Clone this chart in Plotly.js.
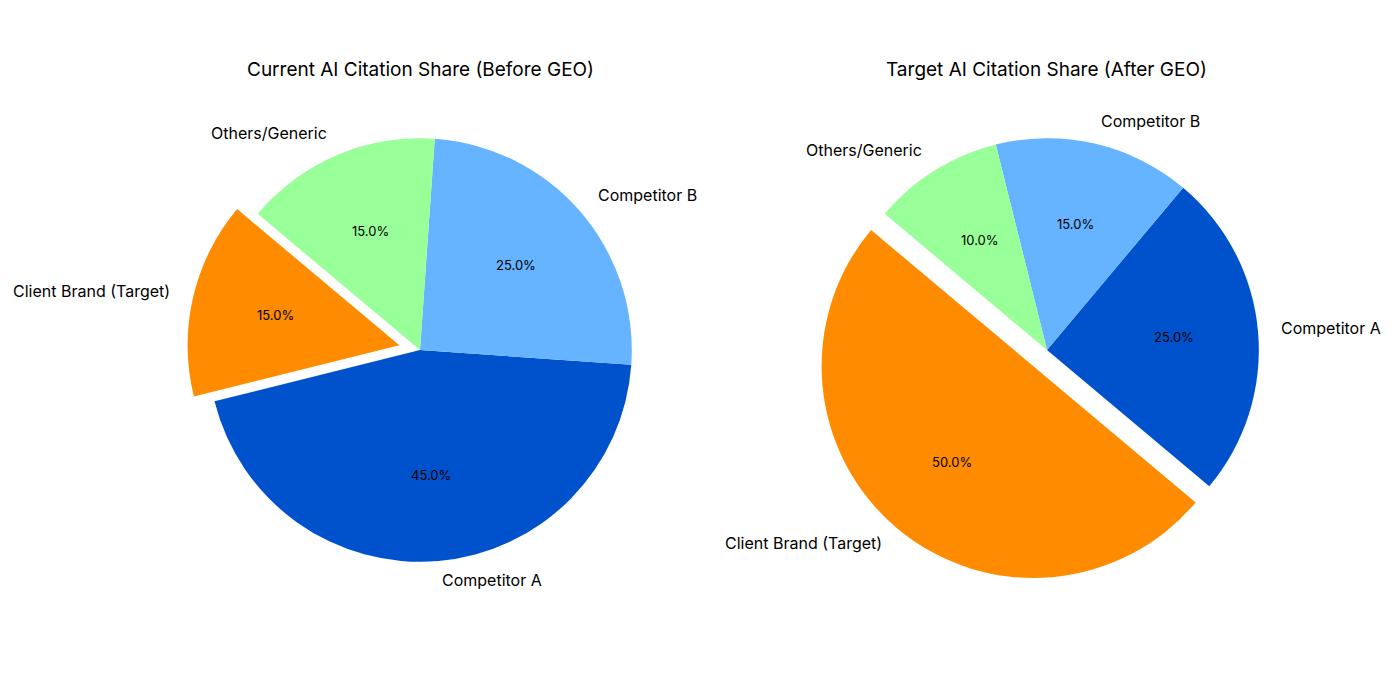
<!DOCTYPE html>
<html>
<head>
<meta charset="utf-8">
<script src="https://cdn.plot.ly/plotly-3.0.1.min.js"></script>
<style>html,body{margin:0;padding:0;background:#fff}</style>
</head>
<body>
<div id="chart" style="width:1400px;height:700px"></div>
<script>
const labels = ["Client Brand (Target)", "Competitor A", "Competitor B", "Others/Generic"];
const currentShare = [15, 45, 25, 15];
const targetShare = [50, 25, 15, 10];
const explode = [0.1, 0, 0, 0];
const sliceColors = ["#FF8C00", "#0052CC", "#66B3FF", "#99FF99"];
const titles = ["Current AI Citation Share (Before GEO)", "Target AI Citation Share (After GEO)"];
const startAngle = 140;      // first slice begins here (deg, counterclockwise from 3 o'clock)
const pctDistance = 0.6;     // percent labels, in pie radii
const labelDistance = 1.1;   // category labels, in pie radii

const FONT = "Inter, Roboto, 'DejaVu Sans', sans-serif";
const domains = [
  {x: [0.1336, 0.4664], y: [0.167, 0.833]},
  {x: [0.5814, 0.9143], y: [0.167, 0.833]}
];
const datasets = [currentShare, targetShare];
const maxPull = Math.max.apply(null, explode);
const pieHalf = 1 + maxPull;   // pie domain half-size, in pie radii
const axHalf = 1.45;           // hidden text axes half-size, in pie radii
function wrap(a) { return ((a + 180) % 360 + 360) % 360 - 180; }
function grow(d) {
  const f = axHalf / pieHalf;
  const c = (d[0] + d[1]) / 2, h = (d[1] - d[0]) / 2 * f;
  return [c - h, c + h];
}

const traces = [];
const annotations = [];
const layout = {
  width: 1400, height: 700,
  margin: {l: 0, r: 0, t: 0, b: 0},
  paper_bgcolor: "#fff", plot_bgcolor: "rgba(0,0,0,0)",
  font: {family: FONT, color: "#000"},
  hovermode: false, showlegend: false
};

datasets.forEach((vals, i) => {
  const total = vals.reduce((s, v) => s + v, 0);
  const rot = wrap((90 - startAngle) - vals[0] / total * 360);
  traces.push({
    type: "pie", labels: labels, values: vals, sort: false,
    direction: "counterclockwise", rotation: rot, pull: explode,
    domain: domains[i], showlegend: false, hoverinfo: "skip",
    marker: {colors: sliceColors, line: {width: 0}},
    textinfo: "none"
  });
  const xa = i === 0 ? "x" : "x2", ya = i === 0 ? "y" : "y2";
  traces.push({type: "scatter", x: [], y: [], xaxis: xa, yaxis: ya, showlegend: false, hoverinfo: "skip"});
  const axKey = i === 0 ? "" : "2";
  layout["xaxis" + axKey] = {domain: grow(domains[i].x), range: [-axHalf, axHalf], visible: false, fixedrange: true, anchor: ya};
  layout["yaxis" + axKey] = {domain: grow(domains[i].y), range: [-axHalf, axHalf], visible: false, fixedrange: true, anchor: xa};

  let cum = 0;
  vals.forEach((v, k) => {
    const t1 = startAngle + 360 * cum / total;
    cum += v;
    const t2 = startAngle + 360 * cum / total;
    const mid = (t1 + t2) / 2 * Math.PI / 180;
    const c = Math.cos(mid), s = Math.sin(mid);
    const ox = explode[k] * c, oy = explode[k] * s;
    annotations.push({
      xref: xa, yref: ya, x: ox + pctDistance * c, y: oy + pctDistance * s,
      text: (v / total * 100).toFixed(1) + "%", showarrow: false,
      xanchor: "center", yanchor: "middle", yshift: 2,
      font: {family: FONT, size: 13, color: "#000"}
    });
    const lx = ox + labelDistance * c, ly = oy + labelDistance * s;
    annotations.push({
      xref: xa, yref: ya, x: lx, y: ly,
      text: labels[k], showarrow: false,
      xanchor: lx > 0 ? "left" : "right", yanchor: "middle", yshift: 2,
      font: {family: FONT, size: 16, color: "#000"}
    });
  });
  annotations.push({
    text: titles[i], xref: "paper", yref: "paper",
    x: (domains[i].x[0] + domains[i].x[1]) / 2, y: 0.9,
    xanchor: "center", yanchor: "middle", showarrow: false,
    font: {family: FONT, size: 19, color: "#000"}
  });
});
layout.annotations = annotations;
Plotly.newPlot("chart", traces, layout, {displayModeBar: false, staticPlot: true});
</script>
</body>
</html>
